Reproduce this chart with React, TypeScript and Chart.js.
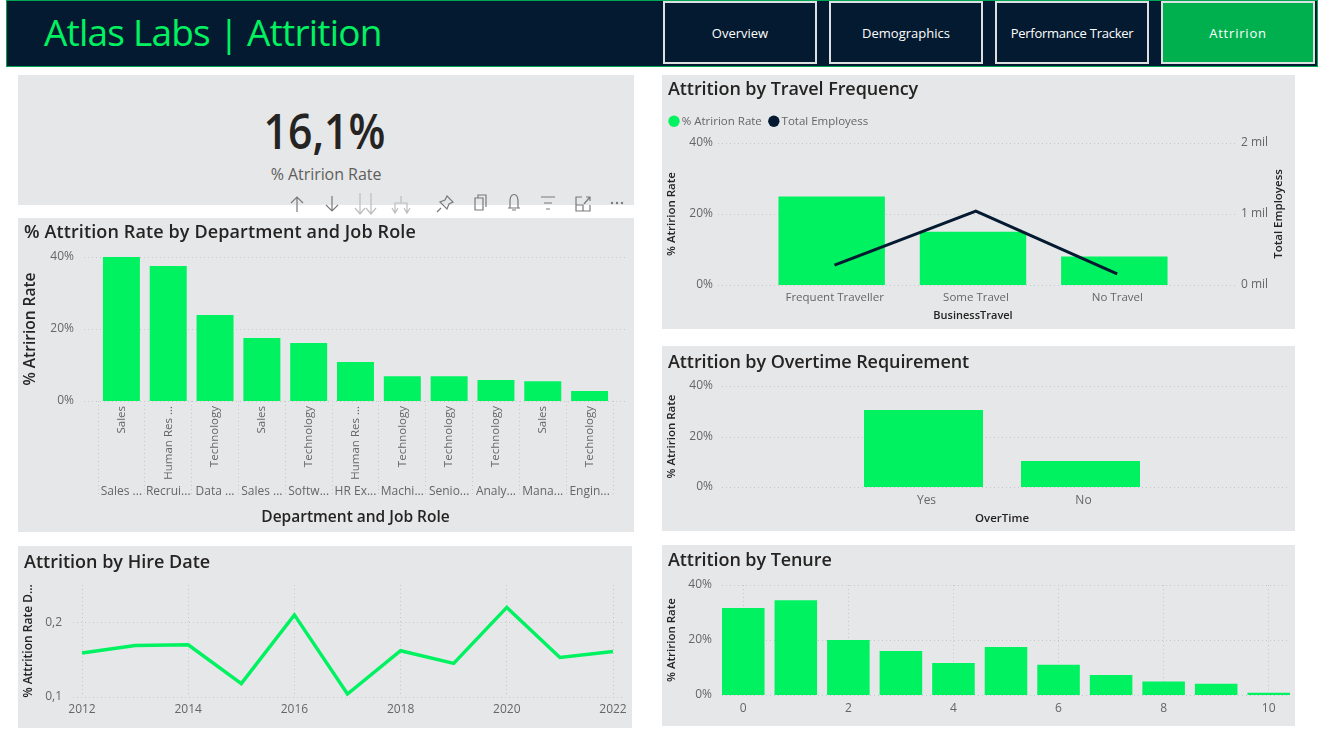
import React, { useEffect, useRef } from "react";
import { Chart, registerables } from "chart.js";

Chart.register(...registerables);

const FONT = "'Open Sans'";
const GREEN = "#00F261";
const NAVY = "#041A30";
const PANEL = "#E6E7E9";
const TICK = "#666666";
const DARK = "#252423";
const GRID = "#C6C9CC";

const roles = ["Sales ...", "Recrui...", "Data ...", "Sales ...", "Softw...", "HR Ex...", "Machi...", "Senio...", "Analy...", "Mana...", "Engin..."];
const departments = ["Sales", "Human Res ...", "Technology", "Sales", "Technology", "Human Res ...", "Technology", "Technology", "Technology", "Sales", "Technology"];
const roleRates = [40, 37.5, 23.9, 17.5, 16.1, 10.8, 6.9, 6.9, 5.8, 5.5, 2.8];

const hireYears = ["2012", "2013", "2014", "2015", "2016", "2017", "2018", "2019", "2020", "2021", "2022"];
const hireRates = [0.159, 0.169, 0.17, 0.118, 0.21, 0.104, 0.162, 0.145, 0.22, 0.153, 0.161];

const travelTypes = ["Frequent Traveller", "Some Travel", "No Travel"];
const travelRates = [24.9, 15, 8];
const travelEmployees = [280000, 1040000, 155000];

const overtimeTypes = ["Yes", "No"];
const overtimeRates = [30.5, 10.3];

const tenureYears = ["0", "1", "2", "3", "4", "5", "6", "7", "8", "9", "10"];
const tenureRates = [31.6, 34.5, 20, 16, 11.6, 17.5, 11, 7.3, 4.9, 4.1, 0.8];

const navButtons = ["Overview", "Demographics", "Performance Tracker", "Attririon"];
const navSpacing = [0, 0, -0.25, 0.8];

const pct = (v: any) => v + "%";
const fixWidth = (w: number) => (s: any) => {
  s.width = w;
  s.paddingTop = 0;
  s.paddingBottom = 0;
};
const fixHeight = (h: number) => (s: any) => {
  s.height = h;
  s.paddingLeft = 0;
  s.paddingRight = 0;
};

// horizontal dotted lines wider than the category band, as Power BI draws them
const wideGrid = (from: number, to: number, axis = "y") => ({
  id: "wideGrid",
  beforeDatasetsDraw(chart: any) {
    const { ctx } = chart;
    const scale = chart.scales[axis];
    ctx.save();
    ctx.strokeStyle = GRID;
    ctx.lineWidth = 1;
    ctx.setLineDash([1, 3]);
    scale.ticks.forEach((t: any) => {
      const y = Math.round(scale.getPixelForValue(t.value)) + 0.5;
      ctx.beginPath();
      ctx.moveTo(from, y);
      ctx.lineTo(to, y);
      ctx.stroke();
    });
    ctx.restore();
  },
});

const yTitle = (text: string, size: number, cx: number) => ({
  display: true,
  text,
  color: DARK,
  font: { size, weight: "600" as const, lineHeight: 1.2 },
  padding: { top: cx - (size * 1.2) / 2, bottom: 0 },
});

const xTitle = (text: string, size: number, fromBottom: number) => ({
  display: true,
  text,
  color: DARK,
  font: { size, weight: "600" as const, lineHeight: 1.2 },
  padding: { top: 0, bottom: fromBottom - (size * 1.2) / 2 },
});

const noGrid = { display: false, drawTicks: false };
const dotted = { display: false, dash: [1, 3] };

const rateAxis = (width: number, tickPad: number, title: any) => ({
  min: 0,
  max: 40,
  afterFit: fixWidth(width),
  border: { display: false },
  grid: noGrid,
  title,
  ticks: { stepSize: 20, color: TICK, font: { size: 12 }, padding: tickPad, callback: pct },
});

const baseOptions = (pad: any) => ({
  responsive: false,
  animation: false as const,
  layout: { padding: pad },
  plugins: { legend: { display: false }, tooltip: { enabled: false } },
});

const roleConfig = () => ({
  type: "bar",
  data: {
    labels: roles,
    datasets: [{ data: roleRates, backgroundColor: GREEN, barPercentage: 0.79, categoryPercentage: 1, xAxisID: "x" }],
  },
  options: {
    ...baseOptions({ top: 39, right: 21 }),
    scales: {
      y: rateAxis(80, 24, yTitle("% Atririon Rate", 15.5, 13)),
      x2: {
        type: "category",
        labels: departments,
        offset: true,
        weight: 0,
        afterFit: fixHeight(85),
        border: { display: false },
        grid: {
          offset: true,
          drawOnChartArea: false,
          tickLength: 96,
          tickColor: GRID,
          tickBorderDash: [1, 3],
        },
        ticks: { autoSkip: false, minRotation: 90, maxRotation: 90, padding: -91, color: TICK, font: { size: 11.5 } },
      },
      x: {
        weight: 1,
        afterFit: fixHeight(46),
        border: { display: false },
        grid: noGrid,
        title: xTitle("Department and Job Role", 15.5, 14),
        ticks: { autoSkip: false, maxRotation: 0, padding: -2, color: TICK, font: { size: 12 } },
      },
    },
  },
  plugins: [wideGrid(66, 608)],
});

const hireConfig = () => ({
  type: "line",
  data: {
    labels: hireYears,
    datasets: [{ data: hireRates, borderColor: GREEN, borderWidth: 3.5, pointRadius: 0, tension: 0 }],
  },
  options: {
    ...baseOptions({ top: 39, right: 19 }),
    scales: {
      y: {
        min: 0.1,
        max: 0.25,
        afterFit: fixWidth(64),
        border: { display: false },
        grid: noGrid,
        title: yTitle("% Attrition Rate D...", 12, 11),
        ticks: {
          stepSize: 0.1,
          includeBounds: false,
          color: TICK,
          font: { size: 12 },
          padding: 20,
          callback: (v: any) => String(v).replace(".", ","),
        },
      },
      x: {
        offset: false,
        afterFit: fixHeight(31),
        border: dotted,
        grid: { color: GRID, drawTicks: false },
        ticks: { autoSkip: true, maxTicksLimit: 6, autoSkipPadding: 0, maxRotation: 0, padding: 5, color: TICK, font: { size: 12 } },
      },
    },
  },
  plugins: [wideGrid(55, 604)],
});

// stretches the legend box so the plot starts lower
const legendGap = (gap: number) => ({
  id: "legendGap",
  beforeLayout(chart: any) {
    const fit = chart.legend.fit;
    chart.legend.fit = function () {
      fit.call(this);
      this.height += gap;
    };
  },
});

// Chart.js turns a right axis title clockwise; this one reads upwards
const rightTitle = (text: string, x: number) => ({
  id: "rightTitle",
  afterDraw(chart: any) {
    const { ctx, chartArea } = chart;
    ctx.save();
    ctx.translate(x, (chartArea.top + chartArea.bottom) / 2);
    ctx.rotate(-Math.PI / 2);
    ctx.textAlign = "center";
    ctx.textBaseline = "middle";
    ctx.fillStyle = DARK;
    ctx.font = `600 11.5px ${FONT}`;
    ctx.fillText(text, 0, 0);
    ctx.restore();
  },
});

const travelConfig = () => ({
  type: "bar",
  data: {
    labels: travelTypes,
    datasets: [
      {
        label: "% Atririon Rate",
        data: travelRates,
        backgroundColor: GREEN,
        grouped: false,
        barPercentage: 0.753,
        categoryPercentage: 1,
        xAxisID: "x",
        yAxisID: "y",
        order: 2,
      },
      {
        label: "Total Employess",
        type: "line",
        data: travelEmployees.map((y, x) => ({ x, y })),
        yAxisID: "y1",
        xAxisID: "xLine",
        borderColor: NAVY,
        backgroundColor: NAVY,
        borderWidth: 3,
        pointRadius: 0,
        order: 1,
      },
    ],
  },
  options: {
    ...baseOptions({ top: 30.5 }),
    plugins: {
      tooltip: { enabled: false },
      legend: {
        position: "top",
        align: "start",
        labels: {
          usePointStyle: true,
          pointStyle: "circle",
          boxWidth: 4,
          boxHeight: 8,
          padding: 10,
          color: TICK,
          font: { size: 11.5 },
          sort: (a: any, b: any) => a.datasetIndex - b.datasetIndex,
          generateLabels: (chart: any) =>
            Chart.defaults.plugins.legend.labels.generateLabels(chart).map((item: any) => ({ ...item, lineWidth: 0 })),
        },
      },
    },
    scales: {
      y: rateAxis(99, 48, yTitle("% Atririon Rate", 11.5, 10)),
      y1: {
        position: "right",
        min: 0,
        max: 2000000,
        afterFit: fixWidth(110),
        border: { display: false },
        grid: noGrid,
        ticks: { stepSize: 1000000, color: TICK, font: { size: 12 }, padding: 56, callback: (v: any) => v / 1000000 + " mil" },
      },
      // the line sits a few pixels right of the bars in the reference
      xLine: { type: "linear", display: false, offset: false, min: -0.52, max: 2.48 },
      x: {
        afterFit: fixHeight(44),
        border: { display: false },
        grid: noGrid,
        title: xTitle("BusinessTravel", 11, 13),
        ticks: { labelOffset: 3, padding: 6, color: TICK, font: { size: 11.5 } },
      },
    },
  },
  plugins: [wideGrid(56, 573), legendGap(6), rightTitle("Total Employess", 617)],
});

const overtimeConfig = () => ({
  type: "bar",
  data: {
    labels: overtimeTypes,
    datasets: [{ data: overtimeRates, backgroundColor: GREEN, barPercentage: 0.758, categoryPercentage: 1 }],
  },
  options: {
    ...baseOptions({ top: 40, right: 136 }),
    scales: {
      y: rateAxis(183, 132, yTitle("% Atririon Rate", 11.5, 10)),
      x: {
        afterFit: fixHeight(44),
        border: { display: false },
        grid: noGrid,
        title: xTitle("OverTime", 11.5, 12),
        ticks: { labelOffset: 3, padding: 6, color: TICK, font: { size: 12 } },
      },
    },
  },
  plugins: [wideGrid(60, 627)],
});

const tenureConfig = () => ({
  type: "bar",
  data: {
    labels: tenureYears,
    datasets: [{ data: tenureRates, backgroundColor: GREEN, barPercentage: 0.81, categoryPercentage: 1 }],
  },
  options: {
    ...baseOptions({ top: 40 }),
    scales: {
      y: rateAxis(55, 5, yTitle("% Atririon Rate", 11.5, 10)),
      x: {
        afterFit: fixHeight(31),
        border: dotted,
        grid: { offset: false, color: GRID, drawTicks: false },
        ticks: { autoSkip: true, maxTicksLimit: 6, autoSkipPadding: 0, maxRotation: 0, padding: 6, color: TICK, font: { size: 12 } },
      },
    },
  },
  plugins: [wideGrid(60, 628)],
});

type PanelProps = {
  x: number;
  y: number;
  w: number;
  h: number;
  title: string;
  titleY: number;
  titleSpacing?: number;
  makeConfig: () => any;
};

function ChartPanel({ x, y, w, h, title, titleY, titleSpacing = -0.08, makeConfig }: PanelProps) {
  const canvasRef = useRef<HTMLCanvasElement>(null);

  useEffect(() => {
    if (!canvasRef.current) return;
    const chart = new Chart(canvasRef.current, makeConfig());
    return () => chart.destroy();
  }, []);

  return (
    <div style={{ position: "absolute", left: x, top: y, width: w, height: h, background: PANEL }}>
      <canvas ref={canvasRef} width={w} height={h} style={{ position: "absolute", left: 0, top: 0 }} />
      <div
        style={{
          position: "absolute",
          left: 6,
          top: titleY - 15,
          height: 30,
          lineHeight: "30px",
          fontSize: 18,
          fontWeight: 600,
          letterSpacing: titleSpacing,
          color: DARK,
          whiteSpace: "nowrap",
        }}
      >
        {title}
      </div>
    </div>
  );
}

function Toolbar() {
  return (
    <svg width={1322} height={732} style={{ position: "absolute", left: 0, top: 0, pointerEvents: "none" }}>
      <g fill="none" stroke="#7A7A7A" strokeWidth={1.2}>
        <path d="M297 212V197M291 203L297 197L303 203" />
        <path d="M332 196V211M326 205L332 211L338 205" />
        <g stroke="#BDBDBD">
          <path d="M360 193V214M355 208L360 214L365 208M371 193V214M366 208L371 214L376 208" />
          <path d="M401 196V203M395 213V203H407V213M392 208L395 213L398 208M404 208L407 213L410 208" />
        </g>
        <path d="M447 196L453 202L449 204L447 209L440 202L445 200ZM441 208L437 212" />
        <path d="M475 198H483V210H475ZM478 198V195H486V207" />
        <path d="M508 208H520M510 208V202C510 192 518 192 518 202V208M512 210H516" />
        <path d="M541 197H555M544 203H552M546 209H550" />
        <path d="M582 197H576V211H590V205M576 205H583V211M584 204L590 197M586 197H590V201" />
      </g>
      <g fill="#7A7A7A">
        <circle cx={612} cy={203} r={1.2} />
        <circle cx={617} cy={203} r={1.2} />
        <circle cx={622} cy={203} r={1.2} />
      </g>
    </svg>
  );
}

export default function App() {
  Chart.defaults.font.family = FONT;

  return (
    <div
      style={{
        position: "absolute",
        left: 0,
        top: 0,
        width: 1322,
        height: 732,
        overflow: "hidden",
        background: "#FFFFFF",
        fontFamily: FONT,
      }}
    >
      <div
        style={{
          position: "absolute",
          left: 6,
          top: 0,
          width: 1310,
          height: 65,
          background: NAVY,
          border: "1px solid #00A651",
          boxSizing: "content-box",
        }}
      />
      <div
        style={{
          position: "absolute",
          left: 44,
          top: 7,
          height: 50,
          lineHeight: "50px",
          fontSize: 37,
          letterSpacing: -0.8,
          color: GREEN,
          whiteSpace: "nowrap",
        }}
      >
        Atlas Labs | Attrition
      </div>
      {navButtons.map((label, i) => (
        <div
          key={label}
          style={{
            position: "absolute",
            left: 663 + i * 166,
            top: 1,
            width: 154,
            height: 63,
            boxSizing: "border-box",
            border: "2px solid #DDE0E0",
            background: i === 3 ? "#00B04F" : NAVY,
            color: "#FFFFFF",
            fontSize: 13,
            letterSpacing: navSpacing[i],
            lineHeight: "61px",
            textAlign: "center",
            whiteSpace: "nowrap",
          }}
        >
          {label}
        </div>
      ))}

      <div style={{ position: "absolute", left: 18, top: 75, width: 616, height: 130, background: PANEL, textAlign: "center" }}>
        <div
          style={{
            position: "absolute",
            left: 0,
            right: 3,
            top: 24,
            lineHeight: "64px",
            fontSize: 48,
            fontWeight: 600,
            color: DARK,
            transform: "scaleX(0.89)",
          }}
        >
          16,1%
        </div>
        <div style={{ position: "absolute", left: 0, right: 0, top: 88, lineHeight: "22px", fontSize: 16, letterSpacing: -0.05, color: "#605E5C" }}>
          % Atririon Rate
        </div>
      </div>

      <ChartPanel x={18} y={218} w={616} h={314} title="% Attrition Rate by Department and Job Role" titleY={13} titleSpacing={0.12} makeConfig={roleConfig} />
      <ChartPanel x={18} y={546} w={614} h={182} title="Attrition by Hire Date" titleY={15} titleSpacing={0} makeConfig={hireConfig} />
      <ChartPanel x={662} y={75} w={633} h={254} title="Attrition by Travel Frequency" titleY={13} makeConfig={travelConfig} />
      <ChartPanel x={662} y={346} w={633} h={185} title="Attrition by Overtime Requirement" titleY={15} makeConfig={overtimeConfig} />
      <ChartPanel x={662} y={545} w={633} h={181} title="Attrition by Tenure" titleY={14} makeConfig={tenureConfig} />

      <Toolbar />
    </div>
  );
}
